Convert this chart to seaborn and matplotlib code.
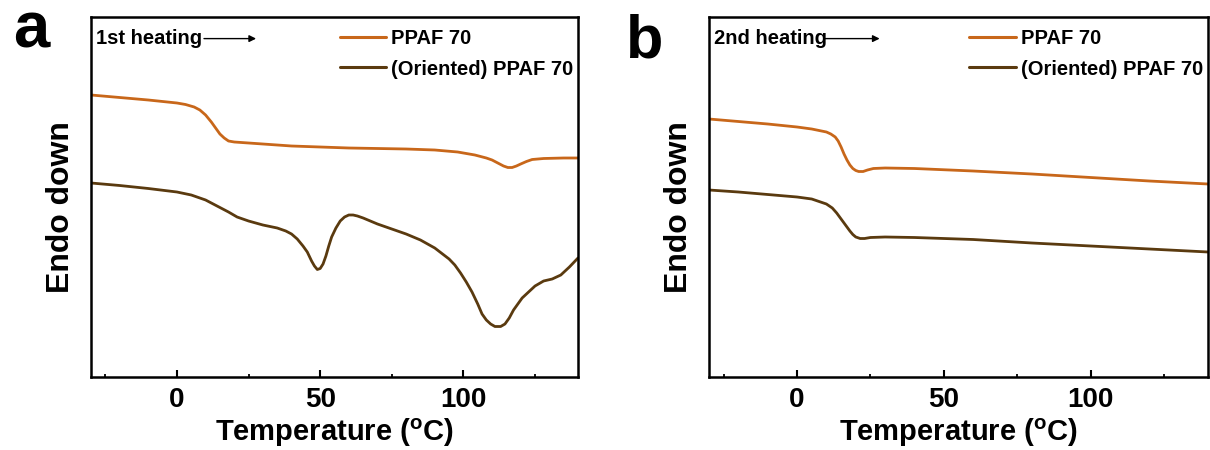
import numpy as np
import pandas as pd
import matplotlib
matplotlib.use("Agg")
import matplotlib.pyplot as plt
import seaborn as sns

# ---------------- data (heat flow, arbitrary units; endo down) ----------------
# Panel a: 1st heating
a_ppaf_T = [-30, -20, -10, 0, 3, 6, 8, 10, 12, 13.5, 15, 16.5, 18, 20, 30, 40, 50, 60,
            70, 80, 90, 98, 104, 108, 110, 112, 114, 115.5, 117, 118.5, 120, 122, 124,
            128, 135, 140]
a_ppaf_px = [95, 97.5, 100, 103, 104.5, 107, 110, 115, 122, 128, 134, 138, 141, 142,
             144, 146, 147, 148, 148.5, 149, 150, 152, 155, 158, 160, 163, 166, 167.5,
             167.5, 166, 164, 161.5, 159.5, 158.5, 158, 158]

a_orient_T = [-30, -20, -10, 0, 5, 10, 14, 18, 21, 25, 30, 35, 38, 40, 42, 44, 45.5, 47,
              48, 49, 50, 51, 52, 53, 54, 55.5, 57, 58.5, 60, 61.5, 63, 65, 70, 75, 80,
              85, 90, 95, 97, 99, 101, 103, 105, 106.5, 108, 109.5, 111, 113, 114.5, 116,
              117.5, 119, 120.5, 122, 125, 128, 131, 134, 137, 140]
a_orient_px = [183, 185.5, 188.5, 192, 195, 200, 206, 212, 217, 221, 225, 228, 231, 234,
               239, 246, 252, 261, 266, 269.5, 268.5, 264, 256, 246, 237, 228, 221, 217,
               215, 215, 216, 218, 224, 229, 234, 240, 248, 259, 265, 273, 282, 292, 304,
               314, 320, 324, 326.5, 326.5, 324, 318, 310, 304, 298, 294, 286, 281, 279,
               275, 267, 258]

# Panel b: 2nd heating
b_ppaf_T = [-30, -20, -10, 0, 5, 10, 11.5, 13, 14, 15, 16, 17, 18, 19, 20, 21, 22.5, 24,
            26, 30, 40, 60, 80, 100, 120, 140]
b_ppaf_px = [119, 121.5, 124, 127, 129, 132, 134, 137, 141, 147, 154, 160, 165, 168.5,
             170.5, 171.5, 171.5, 170, 168.5, 168, 168.5, 171, 174, 177.5, 181, 184]

b_orient_T = [-30, -20, -10, 0, 5, 10, 12, 13.5, 15, 16, 17, 18, 19, 20, 21.5, 23, 25,
              30, 40, 60, 80, 100, 120, 140]
b_orient_px = [190, 192, 194.5, 197, 199, 204, 208, 213, 219, 223, 227, 231, 234.5, 237,
               238.5, 238.5, 237.5, 237, 237.5, 239.5, 243, 246, 249, 252]

series_names = ["PPAF 70", "(Oriented) PPAF 70"]
colors = ["#C8671A", "#5A3A0F"]
panel_titles = ["1st heating", "2nd heating"]
panel_letters = ["a", "b"]
xticks_major = [0, 50, 100]
xticks_minor = [-25, 25, 75, 125]


def to_flow(px):
    # convert read positions to arbitrary heat-flow units (higher = up)
    return [377 - p for p in px]


def make_df(T1, v1, T2, v2):
    d1 = pd.DataFrame({"T": T1, "flow": to_flow(v1), "sample": series_names[0]})
    d2 = pd.DataFrame({"T": T2, "flow": to_flow(v2), "sample": series_names[1]})
    return pd.concat([d1, d2], ignore_index=True)


df_a = make_df(a_ppaf_T, a_ppaf_px, a_orient_T, a_orient_px)
df_b = make_df(b_ppaf_T, b_ppaf_px, b_orient_T, b_orient_px)

# ---------------- style ----------------
sns.set_theme(style="white")
plt.rcParams["font.family"] = ["Liberation Sans", "DejaVu Sans"]
plt.rcParams["font.weight"] = "bold"
plt.rcParams["text.color"] = "black"
plt.rcParams["axes.labelcolor"] = "black"
plt.rcParams["xtick.color"] = "black"
plt.rcParams["ytick.color"] = "black"
plt.rcParams["mathtext.fontset"] = "custom"
plt.rcParams["mathtext.rm"] = "Liberation Sans:bold"
plt.rcParams["mathtext.bf"] = "Liberation Sans:bold"
plt.rcParams["mathtext.it"] = "Liberation Sans:bold"

fig = plt.figure(figsize=(12.1, 4.5), dpi=100)
ax_a = fig.add_axes([91 / 1210, 1 - 377 / 450, 487 / 1210, 360 / 450])
ax_b = fig.add_axes([709 / 1210, 1 - 377 / 450, 499 / 1210, 360 / 450])

palette = dict(zip(series_names, colors))

for ax, df, title, arrow_x, leg_x, lab_x in [
    (ax_a, df_a, panel_titles[0], (0.232, 0.339), 0.511, -0.031),
    (ax_b, df_b, panel_titles[1], (0.232, 0.342), 0.522, -0.030),
]:
    sns.lineplot(data=df, x="T", y="flow", hue="sample", palette=palette,
                 linewidth=2.0, ax=ax, sort=False)
    ax.set_xlim(-30, 140)
    ax.set_ylim(0, 360)
    ax.set_yticks([])
    ax.set_xticks(xticks_major)
    ax.set_xticks(xticks_minor, minor=True)
    ax.tick_params(axis="x", which="major", direction="in", length=5, width=1.5,
                   labelsize=20, pad=7, bottom=True, top=False, colors="black")
    ax.tick_params(axis="x", which="minor", direction="in", length=2.5, width=1.3,
                   bottom=True, top=False, colors="black")
    for lab in ax.get_xticklabels():
        lab.set_fontweight("bold")
    for s in ax.spines.values():
        s.set_linewidth(1.8)
        s.set_color("black")
    ax.set_xlabel(r"Temperature ($^{\mathrm{o}}$C)", fontsize=21, fontweight="bold",
                  labelpad=3, color="black")
    ax.set_ylabel("Endo down", fontsize=23, fontweight="bold", color="black")
    ax.yaxis.set_label_coords(lab_x, 0.472)

    leg = ax.legend(loc="upper left", bbox_to_anchor=(leg_x, 0.966), frameon=False,
                    fontsize=14.5, handlelength=2.3, handletextpad=0.25,
                    labelspacing=0.56, borderpad=0, borderaxespad=0)
    for t in leg.get_texts():
        t.set_fontweight("bold")
        t.set_color("black")
    for h in leg.get_lines():
        h.set_linewidth(2.2)

    ax.text(0.01, 0.94, title, transform=ax.transAxes, fontsize=14.5,
            fontweight="bold", va="center", ha="left", color="black")
    ax.annotate("", xy=(arrow_x[1], 0.94), xytext=(arrow_x[0], 0.94),
                xycoords="axes fraction", textcoords="axes fraction",
                arrowprops=dict(arrowstyle="-|>", color="black", lw=1.0,
                                mutation_scale=10, shrinkA=0, shrinkB=0))

fig.text(13 / 1210, 1 - 47 / 450, panel_letters[0], fontsize=47, fontweight="bold",
         ha="left", va="baseline", color="black")
fig.text(626 / 1210, 1 - 58 / 450, panel_letters[1], fontsize=44, fontweight="bold",
         ha="left", va="baseline", color="black")

fig.savefig("out.png", dpi=100, facecolor="white")
